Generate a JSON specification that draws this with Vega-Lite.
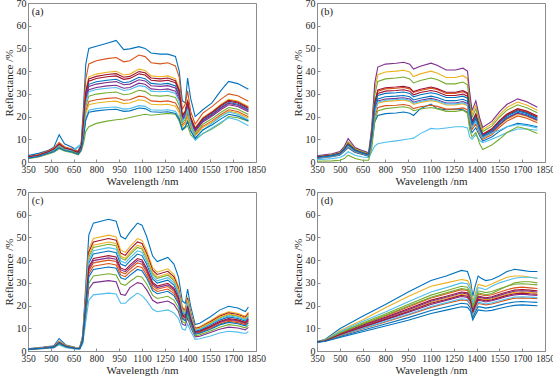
{
"$schema":"https://vega.github.io/schema/vega-lite/v6.json",
"padding":{"left":2,"top":-3,"right":0,"bottom":0},
"bounds":"flush",
"columns":2,
"spacing":{"row":30,"column":61},
"datasets":{
"a":[
{"w":350,"s01":2.8,"s02":2.4,"s03":2.2,"s04":2.0,"s05":1.5,"s06":1.7,"s07":2.1,"s08":2.1,"s09":1.8,"s10":1.8,"s11":2.1,"s12":1.9,"s13":2.0,"s14":2.2,"s15":1.7},
{"w":420,"s01":3.8,"s02":3.3,"s03":3.1,"s04":2.8,"s05":2.2,"s06":2.5,"s07":3.0,"s08":2.9,"s09":2.6,"s10":2.6,"s11":2.9,"s12":2.7,"s13":2.8,"s14":3.0,"s15":2.4},
{"w":480,"s01":5.0,"s02":4.8,"s03":4.5,"s04":4.2,"s05":3.4,"s06":3.7,"s07":4.4,"s08":4.3,"s09":3.9,"s10":3.8,"s11":4.3,"s12":4.0,"s13":4.1,"s14":4.4,"s15":3.7},
{"w":520,"s01":6.5,"s02":6.2,"s03":5.8,"s04":5.3,"s05":4.3,"s06":4.7,"s07":5.6,"s08":5.5,"s09":5.0,"s10":4.9,"s11":5.5,"s12":5.1,"s13":5.3,"s14":5.7,"s15":4.6},
{"w":555,"s01":12.0,"s02":8.6,"s03":8.0,"s04":7.4,"s05":5.8,"s06":6.4,"s07":7.8,"s08":7.6,"s09":6.8,"s10":6.7,"s11":7.5,"s12":7.1,"s13":7.3,"s14":7.9,"s15":6.3},
{"w":590,"s01":8.0,"s02":6.7,"s03":6.3,"s04":5.8,"s05":4.8,"s06":5.2,"s07":6.1,"s08":6.0,"s09":5.5,"s10":5.4,"s11":6.0,"s12":5.6,"s13":5.8,"s14":6.2,"s15":5.1},
{"w":640,"s01":6.5,"s02":5.7,"s03":5.4,"s04":5.0,"s05":4.1,"s06":4.4,"s07":5.3,"s08":5.2,"s09":4.7,"s10":4.6,"s11":5.1,"s12":4.8,"s13":5.0,"s14":5.3,"s15":4.4},
{"w":680,"s01":4.5,"s02":4.7,"s03":4.4,"s04":4.0,"s05":3.1,"s06":6.5,"s07":4.3,"s08":4.2,"s09":3.7,"s10":3.6,"s11":4.1,"s12":3.8,"s13":7.0,"s14":4.3,"s15":3.4},
{"w":700,"s01":8.5,"s02":7.6,"s03":7.0,"s04":6.4,"s05":4.8,"s06":7.5,"s07":6.8,"s08":6.6,"s09":5.8,"s10":5.7,"s11":6.5,"s12":6.1,"s13":8.0,"s14":6.9,"s15":5.3},
{"w":715,"s01":24,"s02":20.5,"s03":17.8,"s04":15.1,"s05":8.1,"s06":10.8,"s07":16.9,"s08":16.2,"s09":12.6,"s10":11.9,"s11":15.8,"s12":13.7,"s13":14.6,"s14":17.3,"s15":10.4},
{"w":730,"s01":43,"s02":36.4,"s03":31.6,"s04":26.8,"s05":13.5,"s06":19.2,"s07":30.0,"s08":28.8,"s09":22.4,"s10":21.2,"s11":28.0,"s12":24.4,"s13":26.0,"s14":30.8,"s15":18.4},
{"w":750,"s01":50.0,"s02":43.2,"s03":37.5,"s04":31.8,"s05":15.5,"s06":22.8,"s07":35.6,"s08":34.2,"s09":26.6,"s10":25.2,"s11":33.3,"s12":29.0,"s13":30.9,"s14":36.6,"s15":21.9},
{"w":800,"s01":51.0,"s02":44.6,"s03":38.7,"s04":32.8,"s05":17.0,"s06":23.5,"s07":36.8,"s08":35.3,"s09":27.4,"s10":26.0,"s11":34.3,"s12":29.9,"s13":31.9,"s14":37.7,"s15":22.5},
{"w":870,"s01":52.3,"s02":45.5,"s03":39.5,"s04":33.5,"s05":18.0,"s06":24.0,"s07":37.5,"s08":36.0,"s09":28.0,"s10":26.5,"s11":35.0,"s12":30.5,"s13":32.5,"s14":38.5,"s15":23.0},
{"w":930,"s01":53.5,"s02":46.0,"s03":39.9,"s04":33.8,"s05":18.6,"s06":24.2,"s07":37.9,"s08":36.4,"s09":28.3,"s10":26.8,"s11":35.4,"s12":30.8,"s13":32.8,"s14":38.9,"s15":23.2},
{"w":980,"s01":49.5,"s02":44.1,"s03":38.3,"s04":32.5,"s05":18.9,"s06":23.3,"s07":36.4,"s08":34.9,"s09":27.2,"s10":25.7,"s11":34.0,"s12":29.6,"s13":31.5,"s14":37.3,"s15":22.3},
{"w":1020,"s01":49.8,"s02":44.6,"s03":38.7,"s04":32.8,"s05":19.6,"s06":23.5,"s07":36.8,"s08":35.3,"s09":27.4,"s10":26.0,"s11":34.3,"s12":29.9,"s13":31.9,"s14":37.7,"s15":22.5},
{"w":1080,"s01":50.8,"s02":47.1,"s03":40.9,"s04":34.7,"s05":20.5,"s06":24.8,"s07":38.8,"s08":37.3,"s09":29.0,"s10":27.4,"s11":36.2,"s12":31.6,"s13":33.6,"s14":39.8,"s15":23.8},
{"w":1120,"s01":50.0,"s02":46.4,"s03":40.3,"s04":34.2,"s05":21.0,"s06":24.5,"s07":38.3,"s08":36.7,"s09":28.6,"s10":27.0,"s11":35.7,"s12":31.1,"s13":33.2,"s14":39.3,"s15":23.5},
{"w":1160,"s01":48.0,"s02":43.7,"s03":37.9,"s04":32.2,"s05":20.6,"s06":23.0,"s07":36.0,"s08":34.6,"s09":26.9,"s10":25.4,"s11":33.6,"s12":29.3,"s13":31.2,"s14":37.0,"s15":22.1},
{"w":1220,"s01":47.5,"s02":43.2,"s03":37.5,"s04":31.8,"s05":21.0,"s06":22.8,"s07":35.6,"s08":34.2,"s09":26.6,"s10":25.2,"s11":33.3,"s12":29.0,"s13":30.9,"s14":36.6,"s15":21.9},
{"w":1270,"s01":47.5,"s02":43.7,"s03":37.9,"s04":32.2,"s05":21.4,"s06":23.0,"s07":36.0,"s08":34.6,"s09":26.9,"s10":25.4,"s11":33.6,"s12":29.3,"s13":31.2,"s14":37.0,"s15":22.1},
{"w":1320,"s01":46.5,"s02":42.3,"s03":36.7,"s04":31.2,"s05":21.0,"s06":22.3,"s07":34.9,"s08":33.5,"s09":26.0,"s10":24.6,"s11":32.6,"s12":28.4,"s13":30.2,"s14":35.8,"s15":21.4},
{"w":1345,"s01":40.0,"s02":37.3,"s03":32.4,"s04":27.5,"s05":18.0,"s06":19.7,"s07":30.8,"s08":29.5,"s09":23.0,"s10":21.7,"s11":28.7,"s12":25.0,"s13":26.7,"s14":31.6,"s15":18.9},
{"w":1365,"s01":27.0,"s02":23.2,"s03":20.8,"s04":18.4,"s05":14.0,"s06":14.6,"s07":20.0,"s08":19.4,"s09":16.2,"s10":15.6,"s11":19.0,"s12":17.2,"s13":18.0,"s14":20.4,"s15":14.2},
{"w":1385,"s01":26.0,"s02":25.5,"s03":22.8,"s04":20.1,"s05":15.0,"s06":15.8,"s07":21.9,"s08":21.2,"s09":17.6,"s10":16.9,"s11":20.8,"s12":18.7,"s13":19.6,"s14":22.3,"s15":15.4},
{"w":1400,"s01":37.0,"s02":31.3,"s03":27.7,"s04":24.1,"s05":16.0,"s06":18.4,"s07":26.5,"s08":25.6,"s09":20.8,"s10":19.9,"s11":25.0,"s12":22.3,"s13":23.5,"s14":27.1,"s15":17.8},
{"w":1420,"s01":28.0,"s02":22.3,"s03":20.0,"s04":17.7,"s05":12.0,"s06":14.1,"s07":19.3,"s08":18.7,"s09":15.6,"s10":15.1,"s11":18.3,"s12":16.6,"s13":17.4,"s14":19.6,"s15":13.7},
{"w":1450,"s01":20.0,"s02":16.7,"s03":15.1,"s04":13.4,"s05":10.0,"s06":9.5,"s07":14.5,"s08":14.1,"s09":11.8,"s10":11.4,"s11":13.8,"s12":12.5,"s13":10.5,"s14":14.8,"s15":10.4},
{"w":1500,"s01":23.0,"s02":21.5,"s03":19.5,"s04":17.6,"s05":12.4,"s06":12.5,"s07":18.9,"s08":18.4,"s09":15.7,"s10":15.2,"s11":18.1,"s12":16.6,"s13":14.0,"s14":19.2,"s15":14.1},
{"w":1560,"s01":26.0,"s02":24.4,"s03":22.2,"s04":20.1,"s05":14.5,"s06":15.0,"s07":21.5,"s08":21.0,"s09":18.1,"s10":17.5,"s11":20.6,"s12":19.0,"s13":17.0,"s14":21.9,"s15":16.3},
{"w":1620,"s01":31.5,"s02":27.7,"s03":25.4,"s04":23.1,"s05":17.0,"s06":17.5,"s07":24.6,"s08":24.0,"s09":20.9,"s10":20.3,"s11":23.7,"s12":21.9,"s13":20.0,"s14":25.0,"s15":19.0},
{"w":1670,"s01":35.5,"s02":30.0,"s03":27.6,"s04":25.2,"s05":20.0,"s06":19.5,"s07":26.8,"s08":26.2,"s09":23.0,"s10":22.4,"s11":25.8,"s12":24.0,"s13":22.0,"s14":27.2,"s15":21.0},
{"w":1730,"s01":34.5,"s02":29.2,"s03":26.8,"s04":24.4,"s05":19.5,"s06":18.5,"s07":26.0,"s08":25.4,"s09":22.2,"s10":21.6,"s11":25.0,"s12":23.2,"s13":21.0,"s14":26.4,"s15":20.2},
{"w":1800,"s01":32.0,"s02":26.7,"s03":24.4,"s04":22.1,"s05":18.0,"s06":16.0,"s07":23.6,"s08":23.0,"s09":19.9,"s10":19.3,"s11":22.7,"s12":20.9,"s13":18.5,"s14":24.0,"s15":18.0}
],
"b":[
{"w":350,"s01":2.0,"s02":2.1,"s03":2.5,"s04":2.7,"s05":2.4,"s06":1.0,"s07":2.1,"s08":1.6,"s09":1.8,"s10":1.9,"s11":1.9,"s12":0.3,"s13":1.9,"s14":2.2,"s15":2.0},
{"w":450,"s01":2.7,"s02":3.0,"s03":3.4,"s04":3.6,"s05":3.2,"s06":1.5,"s07":2.9,"s08":2.3,"s09":2.5,"s10":2.6,"s11":2.7,"s12":0.5,"s13":2.7,"s14":3.0,"s15":2.8},
{"w":500,"s01":3.5,"s02":3.8,"s03":4.3,"s04":4.6,"s05":4.1,"s06":2.0,"s07":3.7,"s08":3.0,"s09":3.3,"s10":3.4,"s11":3.5,"s12":0.8,"s13":3.4,"s14":3.8,"s15":3.6},
{"w":530,"s01":5.4,"s02":5.8,"s03":6.5,"s04":6.9,"s05":6.2,"s06":3.0,"s07":5.7,"s08":4.7,"s09":5.0,"s10":5.2,"s11":5.3,"s12":1.5,"s13":5.3,"s14":5.8,"s15":5.6},
{"w":555,"s01":7.4,"s02":7.9,"s03":9.0,"s04":10.3,"s05":8.6,"s06":4.5,"s07":7.7,"s08":6.3,"s09":6.8,"s10":7.1,"s11":7.2,"s12":3.0,"s13":7.1,"s14":8.0,"s15":7.6},
{"w":600,"s01":4.9,"s02":5.3,"s03":6.0,"s04":6.4,"s05":5.7,"s06":3.0,"s07":5.2,"s08":4.2,"s09":4.5,"s10":4.7,"s11":4.8,"s12":1.5,"s13":4.8,"s14":5.3,"s15":5.1},
{"w":650,"s01":3.8,"s02":4.1,"s03":4.7,"s04":5.0,"s05":4.5,"s06":2.2,"s07":4.0,"s08":3.3,"s09":3.5,"s10":3.7,"s11":3.7,"s12":0.8,"s13":3.7,"s14":4.1,"s15":3.9},
{"w":690,"s01":3.0,"s02":3.3,"s03":3.8,"s04":4.1,"s05":3.6,"s06":2.0,"s07":3.2,"s08":2.5,"s09":2.8,"s10":2.9,"s11":3.0,"s12":0.8,"s13":2.9,"s14":3.3,"s15":3.1},
{"w":710,"s01":10.2,"s02":11.4,"s03":14.0,"s04":15.2,"s05":13.0,"s06":4.5,"s07":11.0,"s08":7.7,"s09":8.8,"s10":9.5,"s11":9.8,"s12":6.0,"s13":9.6,"s14":11.6,"s15":10.7},
{"w":730,"s01":23.2,"s02":26.0,"s03":32.0,"s04":34.8,"s05":29.6,"s06":7.0,"s07":25.2,"s08":17.6,"s09":20.0,"s10":21.6,"s11":22.4,"s12":18.0,"s13":22.0,"s14":26.4,"s15":24.4},
{"w":750,"s01":27.8,"s02":31.2,"s03":38.4,"s04":41.8,"s05":35.5,"s06":8.0,"s07":30.2,"s08":20.5,"s09":24.0,"s10":25.9,"s11":26.9,"s12":22.5,"s13":26.4,"s14":31.7,"s15":29.3},
{"w":800,"s01":28.7,"s02":32.2,"s03":39.6,"s04":43.1,"s05":36.6,"s06":8.7,"s07":31.2,"s08":21.3,"s09":24.8,"s10":26.7,"s11":27.7,"s12":23.5,"s13":27.2,"s14":32.7,"s15":30.2},
{"w":870,"s01":29.0,"s02":32.5,"s03":40.0,"s04":43.5,"s05":37.0,"s06":9.3,"s07":31.5,"s08":21.6,"s09":25.0,"s10":27.0,"s11":28.0,"s12":24.0,"s13":27.5,"s14":33.0,"s15":30.5},
{"w":920,"s01":29.3,"s02":32.8,"s03":40.4,"s04":43.9,"s05":37.4,"s06":9.8,"s07":31.8,"s08":22.0,"s09":25.3,"s10":27.3,"s11":28.3,"s12":24.3,"s13":27.8,"s14":33.3,"s15":30.8},
{"w":960,"s01":28.7,"s02":32.2,"s03":39.6,"s04":43.1,"s05":36.6,"s06":10.2,"s07":31.2,"s08":21.5,"s09":24.8,"s10":26.7,"s11":27.7,"s12":23.8,"s13":27.2,"s14":32.7,"s15":30.2},
{"w":985,"s01":27.3,"s02":30.6,"s03":37.6,"s04":40.9,"s05":34.8,"s06":10.5,"s07":29.6,"s08":20.5,"s09":23.5,"s10":25.4,"s11":26.3,"s12":22.6,"s13":25.9,"s14":31.0,"s15":28.7},
{"w":1030,"s01":28.1,"s02":31.5,"s03":38.8,"s04":42.2,"s05":35.9,"s06":12.5,"s07":30.6,"s08":23.5,"s09":24.3,"s10":26.2,"s11":27.2,"s12":23.3,"s13":26.7,"s14":32.0,"s15":29.6},
{"w":1100,"s01":29.0,"s02":32.5,"s03":40.0,"s04":43.5,"s05":37.0,"s06":14.8,"s07":31.5,"s08":25.5,"s09":25.0,"s10":27.0,"s11":28.0,"s12":24.0,"s13":27.5,"s14":33.0,"s15":30.5},
{"w":1140,"s01":28.4,"s02":31.9,"s03":39.2,"s04":42.6,"s05":36.3,"s06":14.5,"s07":30.9,"s08":23.5,"s09":24.5,"s10":26.5,"s11":27.4,"s12":23.5,"s13":27.0,"s14":32.3,"s15":29.9},
{"w":1200,"s01":27.0,"s02":30.2,"s03":37.2,"s04":40.5,"s05":34.4,"s06":15.0,"s07":29.3,"s08":23.0,"s09":23.3,"s10":25.1,"s11":26.0,"s12":22.3,"s13":25.6,"s14":30.7,"s15":28.4},
{"w":1260,"s01":27.0,"s02":30.2,"s03":37.2,"s04":40.5,"s05":34.4,"s06":15.5,"s07":29.3,"s08":23.3,"s09":23.3,"s10":25.1,"s11":26.0,"s12":22.3,"s13":25.6,"s14":30.7,"s15":28.4},
{"w":1310,"s01":27.6,"s02":30.9,"s03":38.0,"s04":41.3,"s05":35.2,"s06":15.5,"s07":29.9,"s08":23.0,"s09":23.8,"s10":25.7,"s11":26.6,"s12":22.8,"s13":26.1,"s14":31.4,"s15":29.0},
{"w":1340,"s01":26.7,"s02":29.9,"s03":36.8,"s04":40.0,"s05":34.0,"s06":15.0,"s07":29.0,"s08":22.0,"s09":23.0,"s10":24.8,"s11":25.8,"s12":21.5,"s13":25.3,"s14":30.4,"s15":28.1},
{"w":1355,"s01":20.3,"s02":22.8,"s03":28.0,"s04":30.5,"s05":25.9,"s06":11.0,"s07":22.1,"s08":16.0,"s09":17.5,"s10":18.9,"s11":19.6,"s12":14.0,"s13":19.3,"s14":23.1,"s15":21.4},
{"w":1370,"s01":16.1,"s02":17.6,"s03":21.0,"s04":22.6,"s05":19.7,"s06":10.0,"s07":17.2,"s08":12.9,"s09":14.3,"s10":15.2,"s11":15.6,"s12":11.0,"s13":15.4,"s14":17.9,"s15":16.7},
{"w":1395,"s01":19.0,"s02":20.9,"s03":25.0,"s04":26.9,"s05":23.4,"s06":12.0,"s07":20.3,"s08":15.1,"s09":16.8,"s10":17.9,"s11":18.4,"s12":13.0,"s13":18.1,"s14":21.2,"s15":19.8},
{"w":1420,"s01":14.0,"s02":15.4,"s03":18.2,"s04":19.5,"s05":17.1,"s06":9.5,"s07":15.0,"s08":11.4,"s09":12.5,"s10":13.3,"s11":13.6,"s12":8.0,"s13":13.5,"s14":15.5,"s15":14.6},
{"w":1440,"s01":11.1,"s02":12.1,"s03":14.2,"s04":15.2,"s05":13.4,"s06":8.5,"s07":11.8,"s08":9.2,"s09":10.0,"s10":10.6,"s11":10.8,"s12":5.5,"s13":10.7,"s14":12.2,"s15":11.5},
{"w":1500,"s01":13.3,"s02":14.4,"s03":16.8,"s04":17.9,"s05":15.8,"s06":10.0,"s07":14.1,"s08":11.0,"s09":12.0,"s10":12.6,"s11":13.0,"s12":7.5,"s13":12.8,"s14":14.6,"s15":13.8},
{"w":1550,"s01":16.7,"s02":18.0,"s03":20.8,"s04":22.1,"s05":19.7,"s06":11.5,"s07":17.7,"s08":13.5,"s09":15.3,"s10":16.0,"s11":16.4,"s12":10.0,"s13":14.0,"s14":18.2,"s15":17.3},
{"w":1600,"s01":19.6,"s02":21.0,"s03":24.0,"s04":25.4,"s05":22.8,"s06":13.0,"s07":20.6,"s08":15.5,"s09":18.0,"s10":18.8,"s11":19.2,"s12":13.0,"s13":15.5,"s14":21.2,"s15":20.2},
{"w":1670,"s01":21.9,"s02":23.3,"s03":26.4,"s04":27.8,"s05":25.2,"s06":14.5,"s07":22.9,"s08":17.0,"s09":20.3,"s10":21.1,"s11":21.5,"s12":15.5,"s13":16.5,"s14":23.5,"s15":22.5},
{"w":1730,"s01":20.8,"s02":22.2,"s03":25.1,"s04":26.5,"s05":23.9,"s06":14.5,"s07":21.8,"s08":16.5,"s09":19.3,"s10":20.0,"s11":20.4,"s12":14.5,"s13":16.0,"s14":22.4,"s15":21.4},
{"w":1800,"s01":18.7,"s02":20.0,"s03":22.8,"s04":24.1,"s05":21.7,"s06":14.0,"s07":19.7,"s08":15.5,"s09":17.3,"s10":18.0,"s11":18.4,"s12":12.5,"s13":15.0,"s14":20.2,"s15":19.3}
],
"c":[
{"w":350,"s01":1.0,"s02":0.8,"s03":0.9,"s04":0.7,"s05":0.9,"s06":0.6,"s07":0.9,"s08":0.8,"s09":0.8,"s10":0.9,"s11":0.8,"s12":0.7,"s13":0.9,"s14":0.8,"s15":0.7},
{"w":450,"s01":1.7,"s02":1.3,"s03":1.5,"s04":1.1,"s05":1.4,"s06":1.0,"s07":1.5,"s08":1.4,"s09":1.3,"s10":1.5,"s11":1.3,"s12":1.2,"s13":1.4,"s14":1.3,"s15":1.2},
{"w":520,"s01":2.3,"s02":1.8,"s03":2.1,"s04":1.5,"s05":2.0,"s06":1.4,"s07":2.1,"s08":1.9,"s09":1.8,"s10":2.0,"s11":1.8,"s12":1.6,"s13":2.0,"s14":1.9,"s15":1.7},
{"w":555,"s01":5.5,"s02":3.6,"s03":4.3,"s04":3.1,"s05":4.0,"s06":2.7,"s07":4.2,"s08":3.8,"s09":3.5,"s10":4.1,"s11":3.7,"s12":3.2,"s13":3.9,"s14":3.7,"s15":3.4},
{"w":600,"s01":2.6,"s02":2.0,"s03":2.4,"s04":1.7,"s05":2.3,"s06":1.5,"s07":2.3,"s08":2.1,"s09":2.0,"s10":2.3,"s11":2.0,"s12":1.8,"s13":2.2,"s14":2.1,"s15":1.9},
{"w":660,"s01":1.6,"s02":1.2,"s03":1.4,"s04":1.0,"s05":1.3,"s06":0.9,"s07":1.4,"s08":1.3,"s09":1.2,"s10":1.4,"s11":1.2,"s12":1.1,"s13":1.3,"s14":1.2,"s15":1.1},
{"w":690,"s01":1.5,"s02":1.1,"s03":1.3,"s04":0.9,"s05":1.2,"s06":0.8,"s07":1.3,"s08":1.2,"s09":1.1,"s10":1.3,"s11":1.1,"s12":1.0,"s13":1.2,"s14":1.1,"s15":1.0},
{"w":710,"s01":7.0,"s02":4.8,"s03":6.1,"s04":3.7,"s05":5.6,"s06":3.1,"s07":5.9,"s08":5.3,"s09":4.6,"s10":5.8,"s11":4.9,"s12":4.1,"s13":5.5,"s14":5.0,"s15":4.4},
{"w":730,"s01":29.0,"s02":20.0,"s03":25.5,"s04":15.5,"s05":23.5,"s06":12.8,"s07":24.8,"s08":22.0,"s09":19.3,"s10":24.0,"s11":20.5,"s12":17.0,"s13":22.8,"s14":21.0,"s15":18.5},
{"w":750,"s01":51.0,"s02":35.2,"s03":44.9,"s04":27.3,"s05":41.4,"s06":22.4,"s07":43.6,"s08":38.7,"s09":33.9,"s10":42.2,"s11":36.1,"s12":29.9,"s13":40.0,"s14":37.0,"s15":32.6},
{"w":780,"s01":56.3,"s02":38.8,"s03":49.5,"s04":30.1,"s05":45.6,"s06":24.7,"s07":48.0,"s08":42.7,"s09":37.3,"s10":46.6,"s11":39.8,"s12":33.0,"s13":44.1,"s14":40.7,"s15":35.9},
{"w":880,"s01":58.0,"s02":40.0,"s03":51.0,"s04":31.0,"s05":47.0,"s06":25.5,"s07":49.5,"s08":44.0,"s09":38.5,"s10":48.0,"s11":41.0,"s12":34.0,"s13":45.5,"s14":42.0,"s15":37.0},
{"w":930,"s01":57.1,"s02":39.4,"s03":50.2,"s04":30.5,"s05":46.3,"s06":25.1,"s07":48.8,"s08":43.3,"s09":37.9,"s10":47.3,"s11":40.4,"s12":33.5,"s13":44.8,"s14":41.4,"s15":36.4},
{"w":960,"s01":50.5,"s02":34.8,"s03":44.4,"s04":25.0,"s05":40.9,"s06":21.0,"s07":43.1,"s08":38.3,"s09":33.5,"s10":41.8,"s11":35.7,"s12":29.6,"s13":39.6,"s14":36.5,"s15":32.2},
{"w":990,"s01":49.3,"s02":34.0,"s03":43.4,"s04":24.5,"s05":40.0,"s06":21.0,"s07":42.1,"s08":37.4,"s09":32.7,"s10":40.8,"s11":34.9,"s12":28.9,"s13":38.7,"s14":35.7,"s15":31.5},
{"w":1020,"s01":52.2,"s02":36.0,"s03":45.9,"s04":27.9,"s05":42.3,"s06":23.0,"s07":44.6,"s08":39.6,"s09":34.7,"s10":43.2,"s11":36.9,"s12":30.6,"s13":41.0,"s14":37.8,"s15":33.3},
{"w":1070,"s01":56.3,"s02":38.8,"s03":49.5,"s04":30.1,"s05":45.6,"s06":25.5,"s07":48.0,"s08":42.7,"s09":37.3,"s10":46.6,"s11":39.8,"s12":33.0,"s13":44.1,"s14":40.7,"s15":35.9},
{"w":1100,"s01":55.4,"s02":38.2,"s03":48.7,"s04":29.6,"s05":44.9,"s06":24.4,"s07":47.3,"s08":42.0,"s09":36.8,"s10":45.8,"s11":39.2,"s12":32.5,"s13":43.5,"s14":40.1,"s15":35.3},
{"w":1130,"s01":50.5,"s02":34.8,"s03":44.4,"s04":27.0,"s05":40.9,"s06":22.2,"s07":43.1,"s08":38.3,"s09":33.5,"s10":41.8,"s11":35.7,"s12":29.6,"s13":39.6,"s14":36.5,"s15":32.2},
{"w":1170,"s01":41.8,"s02":28.8,"s03":36.7,"s04":22.3,"s05":33.8,"s06":18.4,"s07":35.6,"s08":31.7,"s09":27.7,"s10":34.6,"s11":29.5,"s12":24.5,"s13":32.8,"s14":30.2,"s15":26.6},
{"w":1200,"s01":39.4,"s02":27.2,"s03":34.7,"s04":21.1,"s05":32.0,"s06":17.3,"s07":33.7,"s08":29.9,"s09":26.2,"s10":32.6,"s11":27.9,"s12":23.1,"s13":30.9,"s14":28.6,"s15":25.2},
{"w":1270,"s01":41.2,"s02":28.4,"s03":36.2,"s04":22.0,"s05":33.4,"s06":18.1,"s07":35.1,"s08":31.2,"s09":27.3,"s10":34.1,"s11":29.1,"s12":24.1,"s13":32.3,"s14":29.8,"s15":26.3},
{"w":1310,"s01":38.3,"s02":26.4,"s03":33.7,"s04":20.5,"s05":31.0,"s06":16.8,"s07":32.7,"s08":29.0,"s09":25.4,"s10":31.7,"s11":27.1,"s12":22.4,"s13":30.0,"s14":27.7,"s15":24.4},
{"w":1340,"s01":32.5,"s02":22.4,"s03":28.6,"s04":17.4,"s05":26.3,"s06":14.3,"s07":27.7,"s08":24.6,"s09":21.6,"s10":26.9,"s11":23.0,"s12":19.0,"s13":25.5,"s14":23.5,"s15":20.7},
{"w":1365,"s01":22.0,"s02":15.2,"s03":19.4,"s04":11.8,"s05":17.9,"s06":9.7,"s07":18.8,"s08":16.7,"s09":14.6,"s10":18.2,"s11":15.6,"s12":12.9,"s13":17.3,"s14":16.0,"s15":14.1},
{"w":1385,"s01":20.9,"s02":14.4,"s03":18.4,"s04":11.2,"s05":16.9,"s06":9.2,"s07":17.8,"s08":15.8,"s09":13.9,"s10":17.3,"s11":14.8,"s12":12.2,"s13":16.4,"s14":15.1,"s15":13.3},
{"w":1400,"s01":27.3,"s02":18.8,"s03":24.0,"s04":14.6,"s05":22.1,"s06":12.0,"s07":23.3,"s08":20.7,"s09":18.1,"s10":22.6,"s11":19.3,"s12":16.0,"s13":21.4,"s14":19.7,"s15":17.4},
{"w":1420,"s01":19.7,"s02":13.6,"s03":17.3,"s04":10.5,"s05":16.0,"s06":8.7,"s07":16.8,"s08":15.0,"s09":13.1,"s10":16.3,"s11":13.9,"s12":11.6,"s13":15.5,"s14":14.3,"s15":12.6},
{"w":1450,"s01":11.6,"s02":8.0,"s03":10.2,"s04":6.2,"s05":9.4,"s06":5.1,"s07":9.9,"s08":8.8,"s09":7.7,"s10":9.6,"s11":8.2,"s12":6.8,"s13":9.1,"s14":8.4,"s15":7.4},
{"w":1480,"s01":12.2,"s02":8.4,"s03":10.7,"s04":6.5,"s05":9.9,"s06":5.4,"s07":10.4,"s08":9.2,"s09":8.1,"s10":10.1,"s11":8.6,"s12":7.1,"s13":9.6,"s14":8.8,"s15":7.8},
{"w":1550,"s01":15.1,"s02":10.4,"s03":13.3,"s04":8.1,"s05":12.2,"s06":6.6,"s07":12.9,"s08":11.4,"s09":10.0,"s10":12.5,"s11":10.7,"s12":8.8,"s13":11.8,"s14":10.9,"s15":9.6},
{"w":1610,"s01":18.0,"s02":12.4,"s03":15.8,"s04":9.6,"s05":14.6,"s06":7.9,"s07":15.3,"s08":13.6,"s09":11.9,"s10":14.9,"s11":12.7,"s12":10.5,"s13":14.1,"s14":13.0,"s15":11.5},
{"w":1670,"s01":19.7,"s02":13.6,"s03":17.3,"s04":10.5,"s05":16.0,"s06":8.7,"s07":16.8,"s08":15.0,"s09":13.1,"s10":16.3,"s11":13.9,"s12":11.6,"s13":15.5,"s14":14.3,"s15":12.6},
{"w":1730,"s01":18.9,"s02":13.0,"s03":16.6,"s04":10.1,"s05":15.3,"s06":8.3,"s07":16.1,"s08":14.3,"s09":12.5,"s10":15.6,"s11":13.3,"s12":11.1,"s13":14.8,"s14":13.7,"s15":12.0},
{"w":1780,"s01":17.4,"s02":12.0,"s03":15.3,"s04":9.3,"s05":14.1,"s06":7.7,"s07":14.9,"s08":13.2,"s09":11.6,"s10":14.4,"s11":12.3,"s12":10.2,"s13":13.7,"s14":12.6,"s15":11.1},
{"w":1800,"s01":19.4,"s02":13.4,"s03":17.1,"s04":10.4,"s05":15.7,"s06":8.5,"s07":16.6,"s08":14.7,"s09":12.9,"s10":16.1,"s11":13.7,"s12":11.4,"s13":15.2,"s14":14.1,"s15":12.4}
],
"d":[
{"w":350,"s01":4.2,"s02":4.0,"s03":4.1,"s04":4.0,"s05":4.1,"s06":4.1,"s07":4.0,"s08":3.9,"s09":4.0,"s10":4.0,"s11":4.0,"s12":4.1,"s13":4.0,"s14":4.0,"s15":3.9},
{"w":400,"s01":5.0,"s02":4.6,"s03":4.8,"s04":4.4,"s05":4.6,"s06":4.7,"s07":4.5,"s08":4.3,"s09":4.3,"s10":4.5,"s11":4.5,"s12":4.6,"s13":4.4,"s14":4.4,"s15":4.2},
{"w":500,"s01":9.8,"s02":7.8,"s03":8.9,"s04":7.1,"s05":8.2,"s06":8.5,"s07":7.6,"s08":6.4,"s09":6.7,"s10":7.3,"s11":7.4,"s12":7.9,"s13":6.9,"s14":7.2,"s15":6.0},
{"w":650,"s01":15.3,"s02":11.7,"s03":13.6,"s04":10.4,"s05":12.3,"s06":13.0,"s07":11.3,"s08":9.1,"s09":9.8,"s10":10.8,"s11":11.0,"s12":11.9,"s13":10.0,"s14":10.6,"s15":8.5},
{"w":800,"s01":20.5,"s02":15.4,"s03":19.0,"s04":13.7,"s05":16.3,"s06":17.2,"s07":14.8,"s08":11.9,"s09":12.8,"s10":14.3,"s11":14.5,"s12":15.7,"s13":13.1,"s14":14.0,"s15":11.0},
{"w":950,"s01":26.0,"s02":19.4,"s03":24.0,"s04":17.0,"s05":20.5,"s06":21.7,"s07":18.6,"s08":14.7,"s09":15.9,"s10":17.8,"s11":18.2,"s12":19.8,"s13":16.2,"s14":17.4,"s15":13.5},
{"w":1100,"s01":31.0,"s02":23.3,"s03":28.5,"s04":20.5,"s05":24.6,"s06":26.0,"s07":22.4,"s08":17.8,"s09":19.2,"s10":21.5,"s11":21.9,"s12":23.7,"s13":19.6,"s14":21.0,"s15":16.5},
{"w":1200,"s01":33.0,"s02":25.1,"s03":30.0,"s04":22.3,"s05":26.5,"s06":27.9,"s07":24.1,"s08":19.4,"s09":20.9,"s10":23.2,"s11":23.7,"s12":25.6,"s13":21.3,"s14":22.7,"s15":18.0},
{"w":1300,"s01":35.5,"s02":27.0,"s03":31.5,"s04":24.0,"s05":28.5,"s06":30.0,"s07":26.0,"s08":21.0,"s09":22.5,"s10":25.0,"s11":25.5,"s12":27.5,"s13":23.0,"s14":24.5,"s15":19.5},
{"w":1340,"s01":35.0,"s02":26.6,"s03":31.0,"s04":23.6,"s05":28.1,"s06":29.6,"s07":25.6,"s08":20.7,"s09":22.2,"s10":24.6,"s11":25.1,"s12":27.1,"s13":22.7,"s14":24.1,"s15":19.2},
{"w":1360,"s01":31.0,"s02":24.3,"s03":28.4,"s04":21.6,"s05":25.7,"s06":27.0,"s07":23.4,"s08":18.9,"s09":20.3,"s10":22.5,"s11":23.0,"s12":24.8,"s13":20.7,"s14":22.1,"s15":17.6},
{"w":1375,"s01":24.0,"s02":18.9,"s03":22.0,"s04":16.8,"s05":20.0,"s06":21.0,"s07":18.2,"s08":14.7,"s09":15.8,"s10":17.5,"s11":17.9,"s12":19.3,"s13":16.1,"s14":17.2,"s15":13.7},
{"w":1390,"s01":28.5,"s02":21.6,"s03":25.2,"s04":19.2,"s05":22.8,"s06":24.0,"s07":20.8,"s08":16.8,"s09":18.0,"s10":20.0,"s11":20.4,"s12":22.0,"s13":18.4,"s14":19.6,"s15":15.6},
{"w":1410,"s01":33.0,"s02":25.1,"s03":29.3,"s04":22.3,"s05":26.5,"s06":27.9,"s07":24.2,"s08":19.5,"s09":20.9,"s10":23.3,"s11":23.7,"s12":25.6,"s13":21.4,"s14":22.8,"s15":18.1},
{"w":1430,"s01":32.0,"s02":24.8,"s03":29.0,"s04":22.1,"s05":26.2,"s06":27.6,"s07":23.9,"s08":19.3,"s09":20.7,"s10":23.0,"s11":23.5,"s12":25.3,"s13":21.2,"s14":22.5,"s15":17.9},
{"w":1460,"s01":31.0,"s02":24.3,"s03":28.4,"s04":21.6,"s05":25.7,"s06":27.0,"s07":23.4,"s08":18.9,"s09":20.3,"s10":22.5,"s11":23.0,"s12":24.8,"s13":20.7,"s14":22.1,"s15":17.6},
{"w":1500,"s01":31.5,"s02":24.8,"s03":29.5,"s04":22.1,"s05":26.2,"s06":28.5,"s07":23.9,"s08":19.3,"s09":20.7,"s10":23.0,"s11":23.5,"s12":25.3,"s13":21.2,"s14":22.5,"s15":17.9},
{"w":1550,"s01":33.0,"s02":25.9,"s03":31.0,"s04":23.0,"s05":27.4,"s06":30.0,"s07":25.0,"s08":20.2,"s09":21.6,"s10":24.0,"s11":24.5,"s12":27.0,"s13":22.1,"s14":23.5,"s15":18.7},
{"w":1600,"s01":35.0,"s02":27.0,"s03":32.5,"s04":24.0,"s05":28.5,"s06":31.0,"s07":26.0,"s08":21.0,"s09":22.5,"s10":25.0,"s11":25.5,"s12":28.5,"s13":23.0,"s14":24.5,"s15":19.5},
{"w":1650,"s01":36.0,"s02":27.8,"s03":33.0,"s04":24.7,"s05":29.4,"s06":32.0,"s07":26.8,"s08":21.6,"s09":23.2,"s10":25.8,"s11":26.3,"s12":30.0,"s13":23.7,"s14":25.2,"s15":20.1},
{"w":1700,"s01":35.5,"s02":28.1,"s03":33.0,"s04":25.0,"s05":29.6,"s06":32.5,"s07":27.0,"s08":21.8,"s09":23.4,"s10":26.0,"s11":26.5,"s12":30.5,"s13":23.9,"s14":25.5,"s15":20.3},
{"w":1750,"s01":35.0,"s02":27.8,"s03":32.5,"s04":24.7,"s05":29.4,"s06":32.5,"s07":26.8,"s08":21.6,"s09":23.2,"s10":25.8,"s11":26.3,"s12":30.5,"s13":23.7,"s14":25.2,"s15":20.1},
{"w":1800,"s01":35.0,"s02":27.5,"s03":32.0,"s04":24.5,"s05":29.1,"s06":32.0,"s07":26.5,"s08":21.4,"s09":23.0,"s10":25.5,"s11":26.0,"s12":30.0,"s13":23.5,"s14":25.0,"s15":19.9}
]
},
"concat":[
{"width":228,"height":159,"layer":[
 {"data":{"name":"a"},"transform":[{"fold":["s01","s02","s03","s04","s05","s06","s07","s08","s09","s10","s11","s12","s13","s14","s15"],"as":["series","r"]}],
  "mark":{"type":"line","strokeWidth":1.1},
  "encoding":{
   "x":{"field":"w","type":"quantitative","scale":{"domain":[350,1850],"nice":false},"axis":{"values":[350,500,650,800,950,1100,1250,1400,1550,1700,1850],"tickCount":30,"format":"d","labelOverlap":false,"labelFlush":false,"labelFontSize":9.5,"title":"Wavelength /nm"}},
   "y":{"field":"r","type":"quantitative","scale":{"domain":[0,70],"nice":false},"axis":{"values":[0,10,20,30,40,50,60,70],"tickCount":30,"format":"d","labelOverlap":false,"labelFlush":false,"title":"Reflectance /%"}},
   "color":{"field":"series","type":"nominal","legend":null,"scale":{"domain":["s01","s02","s03","s04","s05","s06","s07","s08","s09","s10","s11","s12","s13","s14","s15"],"range":["#0072BD","#D95319","#EDB120","#7E2F8E","#77AC30","#4DBEEE","#A2142F","#0072BD","#D95319","#EDB120","#7E2F8E","#77AC30","#4DBEEE","#A2142F","#0072BD"]}}}},
 {"data":{"values":[{}]},"mark":{"type":"text","text":"(a)","align":"left","baseline":"middle","font":"Liberation Serif","fontSize":10.5,"color":"#222"},"encoding":{"x":{"datum":375},"y":{"datum":66}}}
]},
{"width":228,"height":159,"layer":[
 {"data":{"name":"b"},"transform":[{"fold":["s01","s02","s03","s04","s05","s06","s07","s08","s09","s10","s11","s12","s13","s14","s15"],"as":["series","r"]}],
  "mark":{"type":"line","strokeWidth":1.1},
  "encoding":{
   "x":{"field":"w","type":"quantitative","scale":{"domain":[350,1850],"nice":false},"axis":{"values":[350,500,650,800,950,1100,1250,1400,1550,1700,1850],"tickCount":30,"format":"d","labelOverlap":false,"labelFlush":false,"labelFontSize":9.5,"title":"Wavelength /nm"}},
   "y":{"field":"r","type":"quantitative","scale":{"domain":[0,70],"nice":false},"axis":{"values":[0,10,20,30,40,50,60,70],"tickCount":30,"format":"d","labelOverlap":false,"labelFlush":false,"title":"Reflectance /%"}},
   "color":{"field":"series","type":"nominal","legend":null,"scale":{"domain":["s01","s02","s03","s04","s05","s06","s07","s08","s09","s10","s11","s12","s13","s14","s15"],"range":["#0072BD","#D95319","#EDB120","#7E2F8E","#77AC30","#4DBEEE","#A2142F","#0072BD","#D95319","#EDB120","#7E2F8E","#77AC30","#4DBEEE","#A2142F","#0072BD"]}}}},
 {"data":{"values":[{}]},"mark":{"type":"text","text":"(b)","align":"left","baseline":"middle","font":"Liberation Serif","fontSize":10.5,"color":"#222"},"encoding":{"x":{"datum":375},"y":{"datum":66}}}
]},
{"width":228,"height":159,"layer":[
 {"data":{"name":"c"},"transform":[{"fold":["s01","s02","s03","s04","s05","s06","s07","s08","s09","s10","s11","s12","s13","s14","s15"],"as":["series","r"]}],
  "mark":{"type":"line","strokeWidth":1.1},
  "encoding":{
   "x":{"field":"w","type":"quantitative","scale":{"domain":[350,1850],"nice":false},"axis":{"values":[350,500,650,800,950,1100,1250,1400,1550,1700,1850],"tickCount":30,"format":"d","labelOverlap":false,"labelFlush":false,"labelFontSize":9.5,"title":"Wavelength /nm"}},
   "y":{"field":"r","type":"quantitative","scale":{"domain":[0,70],"nice":false},"axis":{"values":[0,10,20,30,40,50,60,70],"tickCount":30,"format":"d","labelOverlap":false,"labelFlush":false,"title":"Reflectance /%"}},
   "color":{"field":"series","type":"nominal","legend":null,"scale":{"domain":["s01","s02","s03","s04","s05","s06","s07","s08","s09","s10","s11","s12","s13","s14","s15"],"range":["#0072BD","#D95319","#EDB120","#7E2F8E","#77AC30","#4DBEEE","#A2142F","#0072BD","#D95319","#EDB120","#7E2F8E","#77AC30","#4DBEEE","#A2142F","#0072BD"]}}}},
 {"data":{"values":[{}]},"mark":{"type":"text","text":"(c)","align":"left","baseline":"middle","font":"Liberation Serif","fontSize":10.5,"color":"#222"},"encoding":{"x":{"datum":375},"y":{"datum":66}}}
]},
{"width":228,"height":159,"layer":[
 {"data":{"name":"d"},"transform":[{"fold":["s01","s02","s03","s04","s05","s06","s07","s08","s09","s10","s11","s12","s13","s14","s15"],"as":["series","r"]}],
  "mark":{"type":"line","strokeWidth":1.1},
  "encoding":{
   "x":{"field":"w","type":"quantitative","scale":{"domain":[350,1850],"nice":false},"axis":{"values":[350,500,650,800,950,1100,1250,1400,1550,1700,1850],"tickCount":30,"format":"d","labelOverlap":false,"labelFlush":false,"labelFontSize":9.5,"title":"Wavelength /nm"}},
   "y":{"field":"r","type":"quantitative","scale":{"domain":[0,70],"nice":false},"axis":{"values":[0,10,20,30,40,50,60,70],"tickCount":30,"format":"d","labelOverlap":false,"labelFlush":false,"title":"Reflectance /%"}},
   "color":{"field":"series","type":"nominal","legend":null,"scale":{"domain":["s01","s02","s03","s04","s05","s06","s07","s08","s09","s10","s11","s12","s13","s14","s15"],"range":["#0072BD","#D95319","#EDB120","#7E2F8E","#77AC30","#4DBEEE","#A2142F","#0072BD","#D95319","#EDB120","#7E2F8E","#77AC30","#4DBEEE","#A2142F","#0072BD"]}}}},
 {"data":{"values":[{}]},"mark":{"type":"text","text":"(d)","align":"left","baseline":"middle","font":"Liberation Serif","fontSize":10.5,"color":"#222"},"encoding":{"x":{"datum":375},"y":{"datum":66}}}
]}
],
"config":{
 "font":"Liberation Serif",
 "view":{"stroke":"#8c8c8c","strokeWidth":1},
 "axis":{"labelFont":"Liberation Serif","titleFont":"Liberation Serif","labelFontSize":10,"titleFontSize":11,"titleFontWeight":"normal","labelColor":"#262626","titleColor":"#262626","domainColor":"#8c8c8c","tickColor":"#8c8c8c","tickSize":-3,"grid":false,"labelPadding":5,"titlePadding":2}
}
}
